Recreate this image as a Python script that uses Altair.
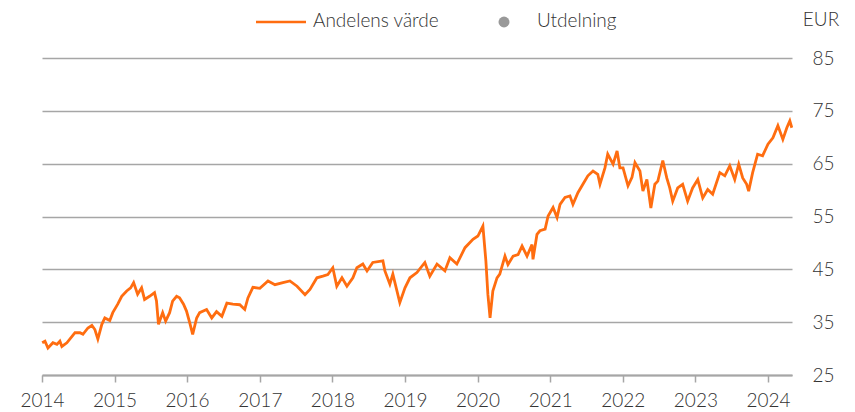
import altair as alt
import pandas as pd

dates = [
    "2014-01-02", "2014-01-16", "2014-01-31", "2014-02-25", "2014-03-17", "2014-04-01", "2014-04-11",
    "2014-05-06", "2014-06-01", "2014-06-16", "2014-07-11", "2014-07-26", "2014-08-20", "2014-09-09",
    "2014-09-24", "2014-10-09", "2014-10-29", "2014-11-13", "2014-12-08", "2014-12-23",
    "2015-01-17", "2015-02-06", "2015-03-03", "2015-03-23", "2015-04-07", "2015-04-27", "2015-05-17",
    "2015-06-01", "2015-06-26", "2015-07-21", "2015-07-31", "2015-08-10", "2015-08-31", "2015-09-15",
    "2015-10-05", "2015-10-20", "2015-11-09", "2015-11-24", "2015-12-14", "2015-12-29",
    "2016-01-14", "2016-01-29", "2016-02-18", "2016-03-04", "2016-04-08", "2016-05-04", "2016-05-28",
    "2016-06-24", "2016-07-19", "2016-08-18", "2016-09-22", "2016-10-17", "2016-11-02", "2016-11-27",
    "2017-01-01", "2017-02-11", "2017-03-18", "2017-04-27", "2017-06-01", "2017-07-07", "2017-08-16",
    "2017-09-10", "2017-10-15", "2017-11-14", "2017-12-09",
    "2018-01-03", "2018-01-23", "2018-02-18", "2018-03-15", "2018-04-14", "2018-05-04", "2018-06-03",
    "2018-06-24", "2018-07-23", "2018-09-12", "2018-09-22", "2018-10-17", "2018-11-01", "2018-12-06",
    "2019-01-01", "2019-01-26", "2019-03-02", "2019-04-11", "2019-05-06", "2019-06-11", "2019-07-21",
    "2019-08-15", "2019-09-19", "2019-10-30", "2019-12-09",
    "2020-01-03", "2020-01-28", "2020-02-12", "2020-02-22", "2020-03-04", "2020-03-18", "2020-04-08",
    "2020-04-22", "2020-05-18", "2020-06-02", "2020-06-28", "2020-07-23", "2020-08-12", "2020-09-06",
    "2020-10-01", "2020-10-06", "2020-10-26", "2020-11-10", "2020-12-06", "2020-12-21",
    "2021-01-15", "2021-02-04", "2021-02-19", "2021-03-16", "2021-04-10", "2021-04-25", "2021-05-20",
    "2021-06-14", "2021-07-09", "2021-08-04", "2021-08-28", "2021-09-08", "2021-10-03", "2021-10-17",
    "2021-11-13", "2021-12-03", "2021-12-17",
    "2022-01-02", "2022-01-27", "2022-02-16", "2022-03-03", "2022-03-28", "2022-04-12", "2022-05-02",
    "2022-05-22", "2022-06-11", "2022-06-26", "2022-07-21", "2022-08-10", "2022-08-25", "2022-09-09",
    "2022-10-04", "2022-10-29", "2022-11-23", "2022-12-18",
    "2023-01-13", "2023-02-07", "2023-03-04", "2023-03-29", "2023-05-04", "2023-05-29", "2023-06-23",
    "2023-07-18", "2023-08-07", "2023-08-27", "2023-09-16", "2023-09-26", "2023-10-16", "2023-11-10",
    "2023-12-05",
    "2024-01-01", "2024-01-26", "2024-02-20", "2024-03-16", "2024-04-05", "2024-04-20", "2024-04-30",
]

values = [
    31.1, 31.4, 30.1, 31.1, 30.8, 31.4, 30.4,
    31.1, 32.3, 33.0, 33.0, 32.7, 33.9, 34.4,
    33.6, 31.8, 34.6, 35.8, 35.3, 36.8,
    38.4, 39.9, 40.9, 41.5, 42.5, 40.3, 41.5,
    39.3, 39.9, 40.6, 39.0, 34.6, 36.8, 35.2,
    36.8, 39.0, 39.9, 39.6, 38.4, 37.1,
    34.9, 32.7, 35.8, 36.8, 37.4, 35.8, 37.0,
    36.1, 38.6, 38.4, 38.3, 37.4, 39.6, 41.6,
    41.4, 42.8, 42.1, 42.5, 42.8, 41.8, 40.2,
    41.2, 43.4, 43.7, 44.0,
    45.3, 41.8, 43.4, 41.8, 43.4, 45.3, 46.0,
    44.7, 46.3, 46.6, 44.7, 42.2, 44.1, 38.7,
    41.5, 43.4, 44.4, 46.3, 43.7, 46.0, 44.7,
    47.2, 46.0, 49.1, 50.7,
    51.3, 53.2, 46.6, 40.3, 35.8, 40.9, 43.4,
    44.1, 47.5, 45.9, 47.5, 47.8, 49.4, 47.5,
    49.7, 46.9, 51.6, 52.3, 52.6, 55.1,
    56.7, 54.8, 57.3, 58.6, 58.9, 57.3, 59.5,
    61.1, 62.7, 63.6, 63.0, 61.1, 64.2, 66.8,
    64.9, 67.4, 64.2,
    64.2, 60.8, 62.4, 65.2, 63.6, 59.8, 62.0,
    56.6, 61.1, 61.7, 65.6, 62.3, 60.4, 57.9,
    60.4, 61.1, 57.9, 60.4,
    62.0, 58.5, 60.1, 59.2, 63.3, 62.7, 64.6,
    62.0, 64.9, 62.3, 61.1, 59.8, 63.3, 66.8,
    66.5,
    68.7, 69.9, 72.2, 69.6, 71.8, 73.1, 71.8,
]

y_ticks = [25, 35, 45, 55, 65, 75, 85]
years = list(range(2014, 2025))
series_names = ["Andelens värde", "Utdelning"]

ORANGE = "#ff6d10"
GREY = "#a6a6a6"
TEXT = "#333333"
FONT = "Lato"

df = pd.DataFrame({"date": [d + "T00:00:00" for d in dates], "value": values})

x_enc = alt.X(
    "date:T",
    scale=alt.Scale(domain=[alt.DateTime(year=2014, month=1, date=1),
                            alt.DateTime(year=2024, month=5, date=1)]),
    axis=alt.Axis(
        values=[alt.DateTime(year=y, month=1, date=1) for y in years],
        format="%Y", title=None, grid=False,
        domainColor=GREY, domainWidth=2, tickColor=GREY, tickWidth=1.5, tickSize=7,
        labelFontSize=19, labelColor=TEXT, labelFont=FONT, labelFontWeight=300,
        labelPadding=9, labelFlush=False, labelOverlap=False,
    ),
)
y_enc = alt.Y(
    "value:Q",
    scale=alt.Scale(domain=[25, 85], nice=False, zero=False),
    axis=alt.Axis(
        orient="right", values=y_ticks, title=None, domain=False, ticks=False,
        grid=True, gridColor=GREY, gridWidth=1.5,
        labelFontSize=19, labelColor=TEXT, labelFont=FONT, labelFontWeight=300,
        labelPadding=20, labelAlign="left",
    ),
)

line = alt.Chart(df).mark_line(color=ORANGE, strokeWidth=2.8).encode(x=x_enc, y=y_enc)

leg_df = pd.DataFrame({"name": series_names})

leg_line = alt.Chart(leg_df.iloc[[0]]).mark_rule(color=ORANGE, strokeWidth=2.5).encode(
    x=alt.value(214), x2=alt.value(264), y=alt.value(-36)
)
leg_dot = alt.Chart(leg_df.iloc[[1]]).mark_point(filled=True, color="#999999", opacity=1, size=120).encode(
    x=alt.value(462), y=alt.value(-36)
)
leg_text1 = alt.Chart(leg_df.iloc[[0]]).mark_text(
    align="left", baseline="middle", fontSize=19, font=FONT, fontWeight=300, color=TEXT
).encode(text="name:N", x=alt.value(271), y=alt.value(-37))
leg_text2 = alt.Chart(leg_df.iloc[[1]]).mark_text(
    align="left", baseline="middle", fontSize=19, font=FONT, fontWeight=300, color=TEXT
).encode(text="name:N", x=alt.value(495), y=alt.value(-37))

unit = alt.Chart(pd.DataFrame({"t": ["EUR"]})).mark_text(
    align="center", baseline="middle", fontSize=19, font=FONT, fontWeight=300, color=TEXT
).encode(text="t:N", x=alt.value(779), y=alt.value(-38))

chart = (
    alt.layer(line, leg_line, leg_dot, leg_text1, leg_text2, unit)
    .properties(
        width=750, height=317,
        padding={"left": 34, "top": 50, "right": 50, "bottom": 36},
        autosize=alt.AutoSizeParams(type="none"),
        background="white",
    )
    .configure_view(stroke=None)
)

chart.save("out.html", embed_options={"renderer": "svg", "actions": False})
